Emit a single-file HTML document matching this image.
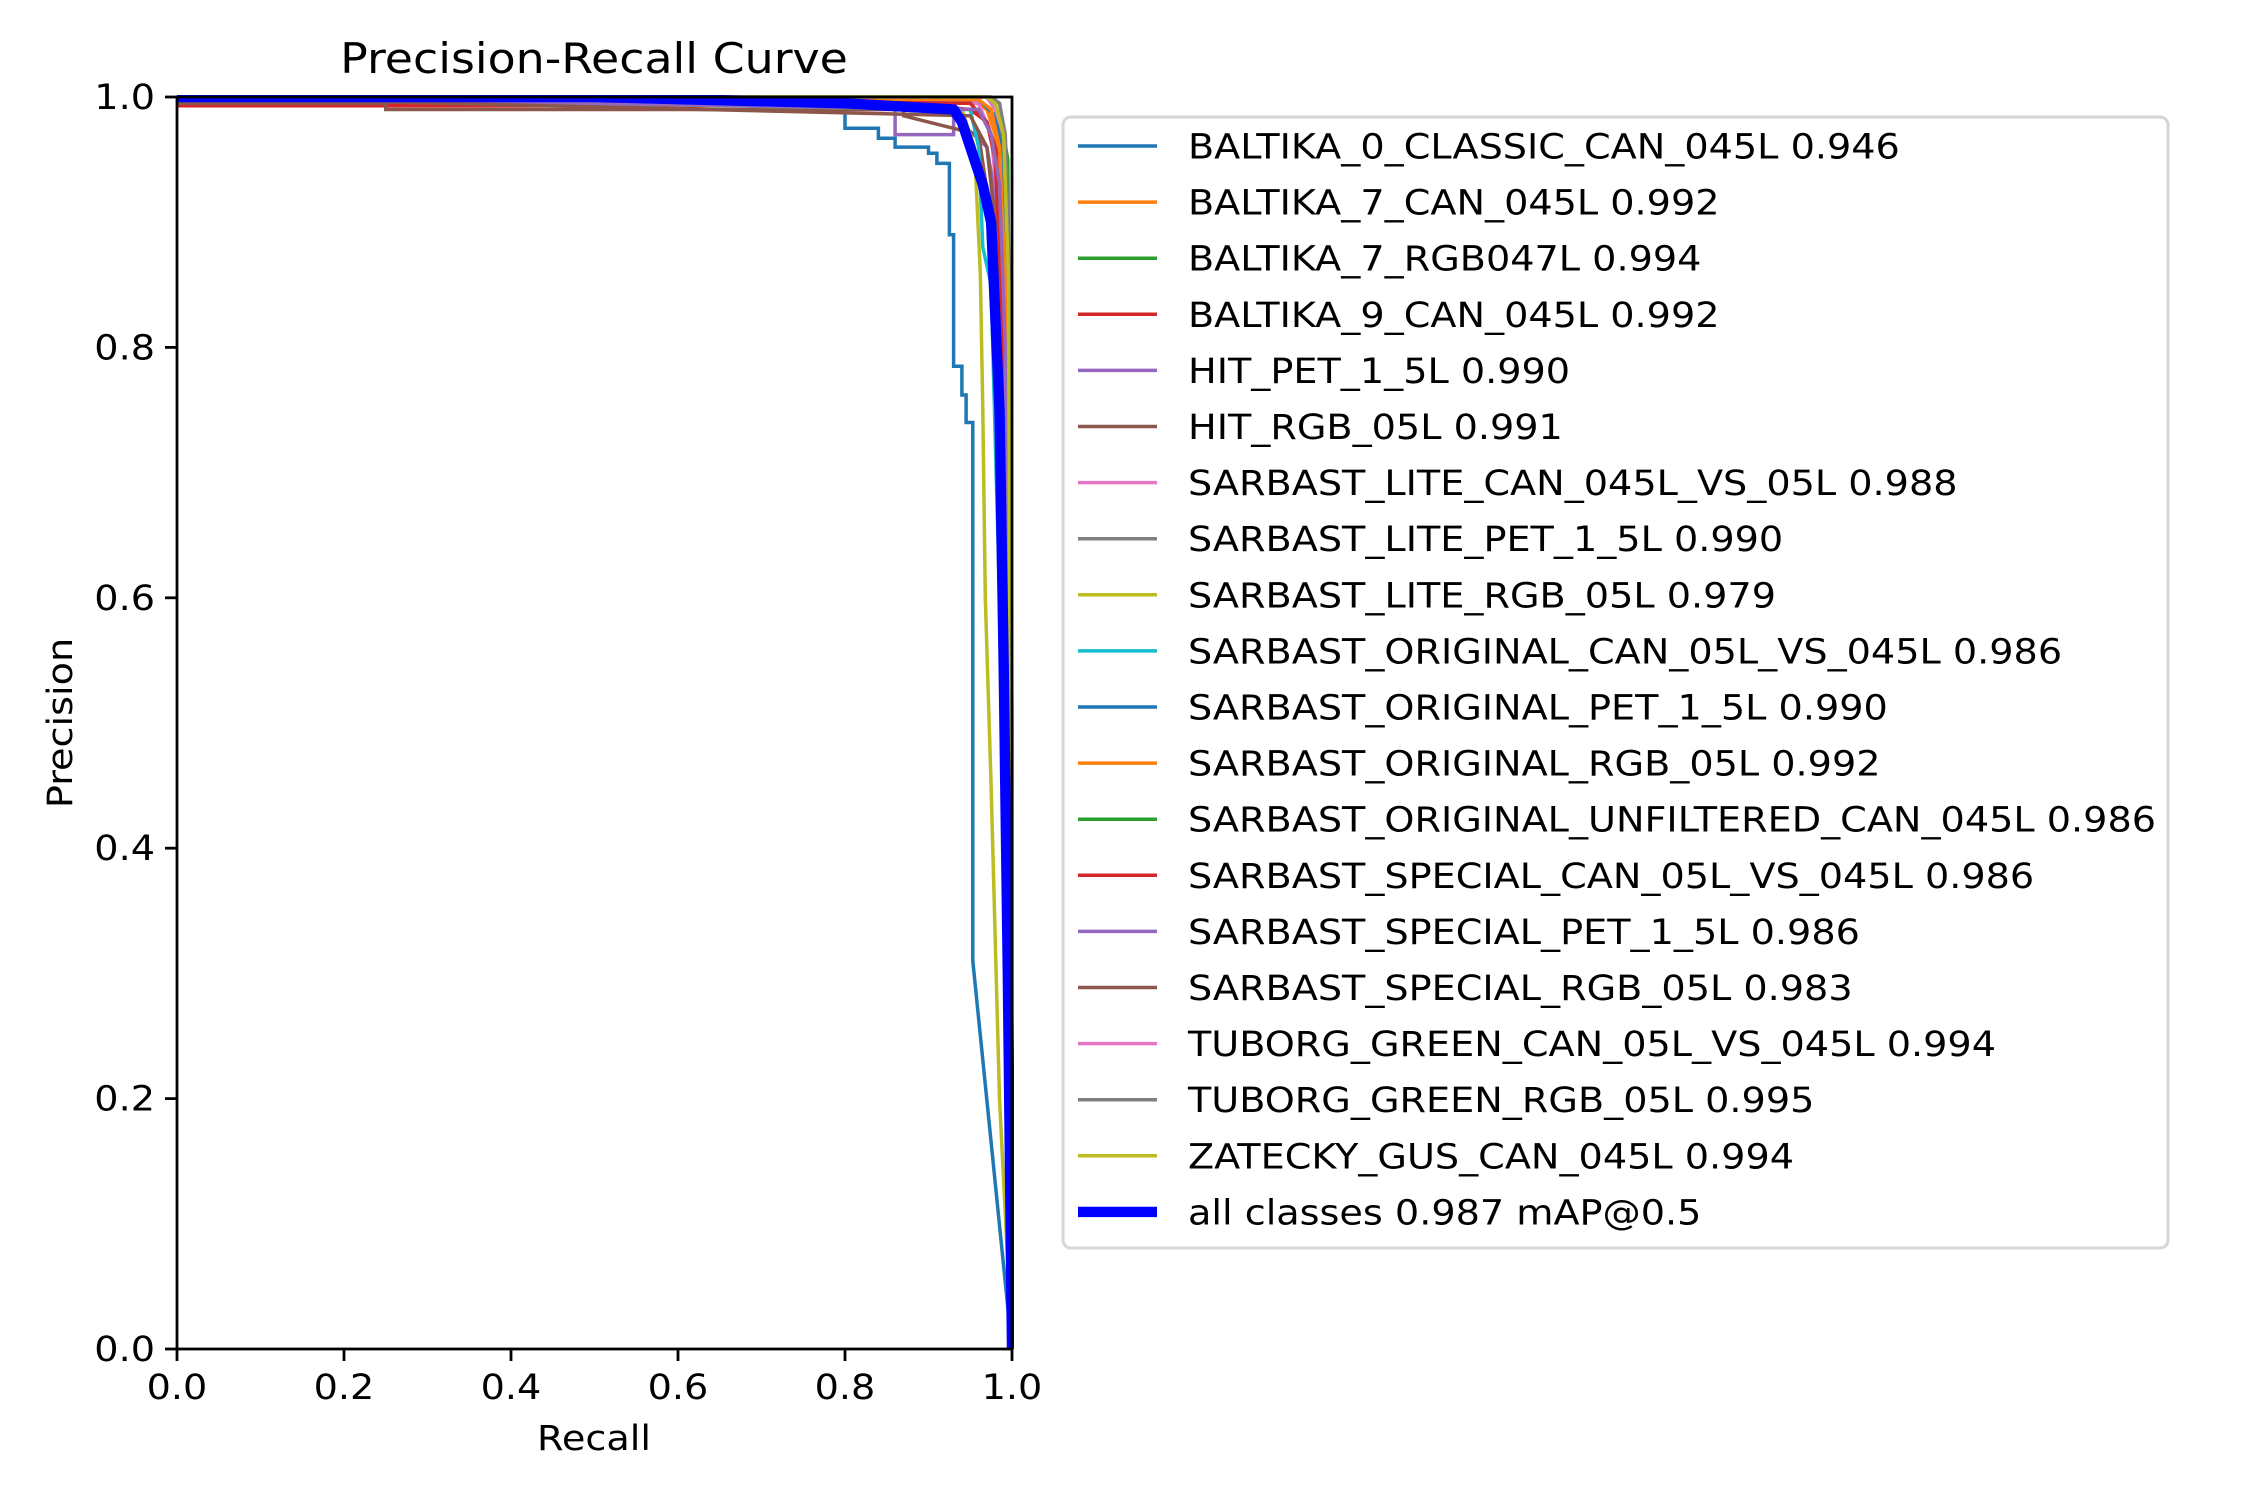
<!DOCTYPE html>
<html><head><meta charset="utf-8"><style>
body{margin:0;background:#fff;}
svg{display:block;font-family:"DejaVu Sans","Liberation Sans",sans-serif;}
</style></head><body>
<svg id="chart" width="2250" height="1500">
<rect width="2250" height="1500" fill="#fff"/>
<defs><clipPath id="clip"><rect x="177" y="95" width="837" height="1256"/></clipPath></defs>
<text class="t" x="594" y="73" font-size="41.7" text-anchor="middle">Precision-Recall Curve</text>
<g id="plot" clip-path="url(#clip)"></g>
<g id="axes"></g>
<text class="t" x="594" y="1450" font-size="34.7" text-anchor="middle">Recall</text>
<text class="t" x="72" y="723" font-size="34.7" text-anchor="middle" transform="rotate(-90 72 723)">Precision</text>
<rect x="1063" y="117" width="1105" height="1131" rx="8" fill="#fff" stroke="#d6d6d6" stroke-width="3"/>
<g id="legend"></g>
</svg>
<script>
const classNames = ["BALTIKA_0_CLASSIC_CAN_045L","BALTIKA_7_CAN_045L","BALTIKA_7_RGB047L","BALTIKA_9_CAN_045L","HIT_PET_1_5L","HIT_RGB_05L","SARBAST_LITE_CAN_045L_VS_05L","SARBAST_LITE_PET_1_5L","SARBAST_LITE_RGB_05L","SARBAST_ORIGINAL_CAN_05L_VS_045L","SARBAST_ORIGINAL_PET_1_5L","SARBAST_ORIGINAL_RGB_05L","SARBAST_ORIGINAL_UNFILTERED_CAN_045L","SARBAST_SPECIAL_CAN_05L_VS_045L","SARBAST_SPECIAL_PET_1_5L","SARBAST_SPECIAL_RGB_05L","TUBORG_GREEN_CAN_05L_VS_045L","TUBORG_GREEN_RGB_05L","ZATECKY_GUS_CAN_045L"];
const apValues = [0.946,0.992,0.994,0.992,0.990,0.991,0.988,0.990,0.979,0.986,0.990,0.992,0.986,0.986,0.986,0.983,0.994,0.995,0.994];
const meanAP = 0.987;
const xTicks = [0,0.2,0.4,0.6,0.8,1.0];
const yTicks = [0,0.2,0.4,0.6,0.8,1.0];
const recall0 = [0,0.80,0.80,0.84,0.84,0.86,0.86,0.90,0.90,0.91,0.91,0.925,0.925,0.93,0.93,0.94,0.94,0.945,0.945,0.953,0.953,1.0];
const prec0 = [0.995,0.995,0.975,0.975,0.967,0.967,0.96,0.96,0.955,0.955,0.947,0.947,0.89,0.89,0.785,0.785,0.762,0.762,0.74,0.74,0.31,0.0];
const recall1 = [0,0.95,0.97,0.98,0.985,0.99,1.0];
const prec1 = [1,0.998,0.99,0.97,0.93,0.7,0];
const recall2 = [0,0.97,0.98,0.99,0.995,1.0,1.0];
const prec2 = [1,1,0.99,0.97,0.95,0.5,0];
const recall3 = [0,0.9,0.95,0.97,0.985,0.995,1.0];
const prec3 = [0.993,0.993,0.99,0.98,0.95,0.6,0];
const recall4 = [0,0.86,0.86,0.93,0.93,0.97,0.985,0.995,1.0];
const prec4 = [0.998,0.998,0.97,0.97,0.985,0.96,0.9,0.5,0];
const recall5 = [0,0.25,0.25,0.87,0.87,0.96,0.98,0.99,1.0];
const prec5 = [0.995,0.995,0.99,0.99,0.985,0.97,0.88,0.6,0];
const recall6 = [0,0.96,0.975,0.985,0.99,1.0];
const prec6 = [1,0.995,0.97,0.9,0.75,0];
const recall7 = [0,0.97,0.98,0.99,0.995,1.0];
const prec7 = [1,1,0.99,0.96,0.8,0];
const recall8 = [0,0.94,0.955,0.962,0.965,0.968,0.975,0.985,1.0];
const prec8 = [1,0.99,0.96,0.86,0.75,0.6,0.45,0.2,0];
const recall9 = [0,0.95,0.96,0.965,0.975,0.985,1.0];
const prec9 = [1,0.99,0.96,0.88,0.85,0.6,0];
const recall10 = [0,0.96,0.98,0.99,0.995,1.0];
const prec10 = [1,0.998,0.985,0.95,0.8,0];
const recall11 = [0,0.96,0.975,0.985,0.992,1.0];
const prec11 = [1,0.998,0.99,0.96,0.85,0];
const recall12 = [0,0.96,0.975,0.985,0.99,1.0];
const prec12 = [1,0.99,0.97,0.93,0.8,0];
const recall13 = [0,0.95,0.97,0.98,0.99,1.0];
const prec13 = [1,0.995,0.98,0.95,0.8,0];
const recall14 = [0,0.96,0.975,0.985,0.992,1.0];
const prec14 = [1,0.99,0.97,0.93,0.8,0];
const recall15 = [0,0.95,0.97,0.98,0.99,1.0];
const prec15 = [1,0.985,0.96,0.9,0.7,0];
const recall16 = [0,0.97,0.98,0.99,0.996,1.0];
const prec16 = [1,1,0.99,0.97,0.85,0];
const recall17 = [0,0.975,0.985,0.992,0.997,1.0];
const prec17 = [1,1,0.995,0.97,0.85,0];
const recall18 = [0,0.97,0.98,0.99,0.996,1.0];
const prec18 = [1,1,0.995,0.97,0.85,0];
const recallAll = [0,0.5,0.8,0.93,0.94,0.955,0.965,0.975,0.985,0.99,0.995,1.0];
const precAll = [1,1,0.995,0.99,0.98,0.95,0.93,0.9,0.75,0.55,0.3,0];
const recallSets = [recall0,recall1,recall2,recall3,recall4,recall5,recall6,recall7,recall8,recall9,recall10,recall11,recall12,recall13,recall14,recall15,recall16,recall17,recall18];
const precSets = [prec0,prec1,prec2,prec3,prec4,prec5,prec6,prec7,prec8,prec9,prec10,prec11,prec12,prec13,prec14,prec15,prec16,prec17,prec18];

const colors = ["#1f77b4","#ff7f0e","#2ca02c","#d62728","#9467bd","#8c564b","#e377c2","#7f7f7f","#bcbd22","#17becf"];
const X0=177,X1=1012,Y0=1349,Y1=97;
const sx = v => X0 + v*(X1-X0);
const sy = v => Y0 - v*(Y0-Y1);
const NS="http://www.w3.org/2000/svg";
const plot=document.getElementById('plot'), axes=document.getElementById('axes'), legend=document.getElementById('legend');
function mk(tag, attrs, parent){const e=document.createElementNS(NS,tag);for(const k in attrs)e.setAttribute(k,attrs[k]);parent.appendChild(e);return e;}

recallSets.forEach((r,i)=>{
  const pts=r.map((v,j)=>sx(v).toFixed(1)+','+sy(precSets[i][j]).toFixed(1)).join(' ');
  const pl=mk('polyline',{points:pts,fill:'none',stroke:colors[i%10],'stroke-width':3.5},plot);
  
  
});
const ptsAll=recallAll.map((v,j)=>sx(v).toFixed(1)+','+sy(precAll[j]).toFixed(1)).join(' ');
const mean=mk('polyline',{points:ptsAll,fill:'none',stroke:'#0000ff','stroke-width':10.4,'stroke-linejoin':'round'},plot);



const frame=mk('rect',{x:X0,y:Y1,width:X1-X0,height:Y0-Y1,fill:'none',stroke:'#000','stroke-width':2.8},axes);


xTicks.forEach(t=>{
  mk('line',{x1:sx(t),x2:sx(t),y1:Y0,y2:Y0+12,stroke:'#000','stroke-width':2.8},axes);
  const tx=mk('text',{x:sx(t),y:Y0+50,'font-size':34.7,'text-anchor':'middle',class:'t'},axes);
  tx.textContent=t.toFixed(1);
  
  
});
yTicks.forEach(t=>{
  mk('line',{x1:X0-12,x2:X0,y1:sy(t),y2:sy(t),stroke:'#000','stroke-width':2.8},axes);
  const tx=mk('text',{x:X0-22,y:sy(t)+12,'font-size':34.7,'text-anchor':'end',class:'t'},axes);
  tx.textContent=t.toFixed(1);
  
  
});

const LY=146, LS=56.1;
classNames.forEach((n,i)=>{
  const y=LY+i*LS;
  mk('line',{x1:1078,x2:1157,y1:y,y2:y,stroke:colors[i%10],'stroke-width':3.5},legend);
  const tx=mk('text',{x:1188,y:y+12.5,'font-size':34.7,class:'t'},legend);
  tx.textContent=n+' '+apValues[i].toFixed(3);
  
  
});
{
  const y=LY+19*LS;
  mk('line',{x1:1078,x2:1157,y1:y,y2:y,stroke:'#0000ff','stroke-width':10.4},legend);
  const tx=mk('text',{x:1188,y:y+12.5,'font-size':34.7,class:'t'},legend);
  tx.textContent='all classes '+meanAP.toFixed(3)+' mAP@0.5';
  
  
}
document.querySelectorAll('text.t').forEach(t=>{
  const w=t.getComputedTextLength();
  if(w>0){t.setAttribute('textLength',(w*1.1).toFixed(1));t.setAttribute('lengthAdjust','spacingAndGlyphs');}
});
</script>
</body></html>
